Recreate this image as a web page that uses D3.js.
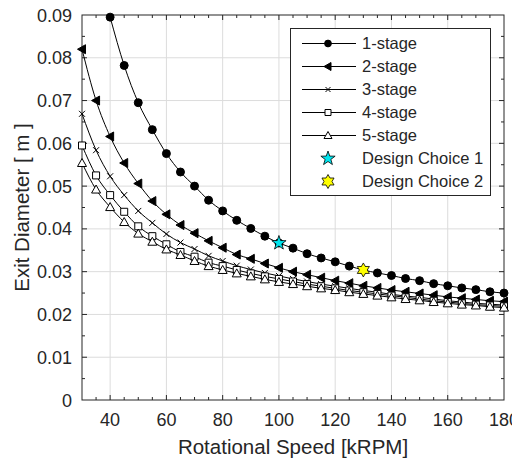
<!DOCTYPE html>
<html>
<head>
<meta charset="utf-8">
<script src="https://cdn.jsdelivr.net/npm/d3@7"></script>
<style>
  body { margin: 0; background: #fff; }
  text { font-family: Arial, "Liberation Sans", sans-serif; fill: #262626; }
</style>
</head>
<body>
<svg id="chart"></svg>
<script>
// rotational speed, kRPM
const speeds = [30, 35, 40, 45, 50, 55, 60, 65, 70, 75, 80, 85, 90, 95, 100, 105,
  110, 115, 120, 125, 130, 135, 140, 145, 150, 155, 160, 165, 170, 175, 180];

// exit diameter [m]; 1-stage starts at 40 kRPM
const stage1 = [0.0895, 0.0782, 0.0695, 0.0632, 0.0576, 0.0533, 0.0500, 0.0467, 0.0442,
  0.0420, 0.0401, 0.0383, 0.0367, 0.0355, 0.0342, 0.0332, 0.0323, 0.0313, 0.0304,
  0.0297, 0.0291, 0.0284, 0.0279, 0.0272, 0.0267, 0.0262, 0.0258, 0.0253, 0.0250];
const stage2 = [0.0820, 0.0700, 0.0616, 0.0554, 0.0506, 0.0465, 0.0434, 0.0409, 0.0390,
  0.0372, 0.0356, 0.0340, 0.0330, 0.0319, 0.0309, 0.0300, 0.0293, 0.0286, 0.0279,
  0.0273, 0.0267, 0.0262, 0.0257, 0.0253, 0.0249, 0.0245, 0.0241, 0.0238, 0.0235,
  0.0232, 0.0230];
const stage3 = [0.0669, 0.0584, 0.0523, 0.0479, 0.0442, 0.0414, 0.0388, 0.0368, 0.0353,
  0.0337, 0.0325, 0.0314, 0.0305, 0.0297, 0.0290, 0.0283, 0.0277, 0.0271, 0.0266,
  0.0261, 0.0256, 0.0252, 0.0247, 0.0243, 0.0240, 0.0236, 0.0232, 0.0229, 0.0226,
  0.0224, 0.0222];
const stage4 = [0.0595, 0.0525, 0.0479, 0.0440, 0.0406, 0.0383, 0.0364, 0.0346, 0.0335,
  0.0321, 0.0313, 0.0304, 0.0296, 0.0289, 0.0283, 0.0277, 0.0271, 0.0266, 0.0261,
  0.0256, 0.0252, 0.0248, 0.0244, 0.0240, 0.0236, 0.0232, 0.0229, 0.0226, 0.0223,
  0.0221, 0.0219];
const stage5 = [0.0554, 0.0492, 0.0451, 0.0416, 0.0389, 0.0370, 0.0352, 0.0339, 0.0325,
  0.0313, 0.0304, 0.0296, 0.0289, 0.0282, 0.0276, 0.0271, 0.0266, 0.0261, 0.0257,
  0.0252, 0.0248, 0.0244, 0.0240, 0.0236, 0.0233, 0.0229, 0.0226, 0.0223, 0.0221,
  0.0218, 0.0216];

const choiceNames = ['Design Choice 1', 'Design Choice 2'];
const choiceSpeed = [100, 130];
const choiceDiam = [0.0367, 0.0304];

const xTicks = [40, 60, 80, 100, 120, 140, 160, 180];
const yTicks = [0, 0.01, 0.02, 0.03, 0.04, 0.05, 0.06, 0.07, 0.08, 0.09];

const width = 512, height = 461;
const margin = { top: 15, right: 8, bottom: 61, left: 82 };

const svg = d3.select('#chart').attr('width', width).attr('height', height);

const x = d3.scaleLinear().domain([30, 180]).range([margin.left, width - margin.right]);
const y = d3.scaleLinear().domain([0, 0.09]).range([height - margin.bottom, margin.top]);

const x0 = x.range()[0], x1 = x.range()[1], y0 = y.range()[0], y1 = y.range()[1];

// grid
svg.append('g').selectAll('line').data(xTicks.filter(d => d < 180)).enter().append('line')
  .attr('x1', d => x(d)).attr('x2', d => x(d)).attr('y1', y0).attr('y2', y1)
  .attr('stroke', '#dcdcdc').attr('stroke-width', 1);
svg.append('g').selectAll('line').data(yTicks.filter(d => d > 0 && d < 0.09)).enter().append('line')
  .attr('y1', d => y(d)).attr('y2', d => y(d)).attr('x1', x0).attr('x2', x1)
  .attr('stroke', '#dcdcdc').attr('stroke-width', 1);

// ticks (inward, all four sides)
const tickG = svg.append('g').attr('stroke', '#262626').attr('stroke-width', 1);
const xMinor = d3.range(35, 180, 5);
const yMinor = d3.range(1, 18).map(i => i * 0.005);
xMinor.forEach(v => {
  const len = xTicks.includes(v) ? 5 : 3;
  tickG.append('line').attr('x1', x(v)).attr('x2', x(v)).attr('y1', y0).attr('y2', y0 - len);
  tickG.append('line').attr('x1', x(v)).attr('x2', x(v)).attr('y1', y1).attr('y2', y1 + len);
});
yMinor.forEach((v, i) => {
  const len = (i % 2 === 1) ? 5 : 3;
  tickG.append('line').attr('y1', y(v)).attr('y2', y(v)).attr('x1', x0).attr('x2', x0 + len);
  tickG.append('line').attr('y1', y(v)).attr('y2', y(v)).attr('x1', x1).attr('x2', x1 - len);
});

// box
svg.append('rect').attr('x', x0).attr('y', y1).attr('width', x1 - x0).attr('height', y0 - y1)
  .attr('fill', 'none').attr('stroke', '#262626').attr('stroke-width', 1);

// tick labels (the last x label runs off the right edge, as in the original)
svg.append('g').selectAll('text').data(xTicks).enter().append('text')
  .attr('x', d => x(d)).attr('y', y0 + 26).attr('text-anchor', 'middle')
  .attr('font-size', 18).text(d => d);
svg.append('g').selectAll('text').data(yTicks).enter().append('text')
  .attr('x', x0 - 10).attr('y', d => y(d) + 6.5).attr('text-anchor', 'end')
  .attr('font-size', 18).text(d => d === 0 ? '0' : d.toFixed(2));

// axis labels
svg.append('text').attr('x', (x0 + x1) / 2).attr('y', y0 + 54).attr('text-anchor', 'middle')
  .attr('font-size', 20.5).text('Rotational Speed [kRPM]');
svg.append('text').attr('transform', `translate(29,${(y0 + y1) / 2}) rotate(-90)`)
  .attr('text-anchor', 'middle').attr('font-size', 20.5).text('Exit Diameter [ m ]');

// marker shapes
function starPath(n, ro, ri) {
  const pts = [];
  for (let i = 0; i < 2 * n; i++) {
    const a = -Math.PI / 2 + i * Math.PI / n;
    const r = i % 2 === 0 ? ro : ri;
    pts.push([r * Math.cos(a), r * Math.sin(a)]);
  }
  return 'M' + pts.map(p => p[0].toFixed(2) + ',' + p[1].toFixed(2)).join('L') + 'Z';
}
const markers = [
  { path: d3.symbol(d3.symbolCircle, 50)(), fill: '#000' },
  { path: 'M-4.5,0L3.5,-4.5L3.5,4.5Z', fill: '#000' },
  { path: 'M-3,-3L3,3M-3,3L3,-3', fill: 'none' },
  { path: 'M-3.5,-3.5H3.5V3.5H-3.5Z', fill: '#fff' },
  { path: 'M0,-4.5L4.5,3.5L-4.5,3.5Z', fill: '#fff' }
];
const legendMarkers = [
  { path: d3.symbol(d3.symbolCircle, 36)(), fill: '#000' },
  { path: 'M-4,0L3,-4L3,4Z', fill: '#000' },
  { path: 'M-2.5,-2.5L2.5,2.5M-2.5,2.5L2.5,-2.5', fill: 'none' },
  { path: 'M-3,-3H3V3H-3Z', fill: '#fff' },
  { path: 'M0,-4L4,3L-4,3Z', fill: '#fff' }
];
const choiceMarkers = [
  { path: starPath(5, 7.5, 3), fill: '#00e5ee' },
  { path: starPath(6, 7, 4), fill: '#ffff00' }
];

const seriesNames = ['1-stage', '2-stage', '3-stage', '4-stage', '5-stage'];
const seriesData = [stage1, stage2, stage3, stage4, stage5];

const line = d3.line().x(d => x(d[0])).y(d => y(d[1])).curve(d3.curveMonotoneX);

const plotG = svg.append('g');
seriesData.forEach((vals, i) => {
  const offset = speeds.length - vals.length;
  const pts = vals.map((v, j) => [speeds[j + offset], v]);
  plotG.append('path').datum(pts).attr('d', line)
    .attr('fill', 'none').attr('stroke', '#000').attr('stroke-width', 1);
  plotG.append('g').selectAll('path').data(pts).enter().append('path')
    .attr('transform', d => `translate(${x(d[0])},${y(d[1])})`)
    .attr('d', markers[i].path).attr('fill', markers[i].fill)
    .attr('stroke', '#000').attr('stroke-width', 1);
});

choiceNames.forEach((n, i) => {
  plotG.append('path')
    .attr('transform', `translate(${x(choiceSpeed[i])},${y(choiceDiam[i])})`)
    .attr('d', choiceMarkers[i].path).attr('fill', choiceMarkers[i].fill)
    .attr('stroke', '#000').attr('stroke-width', 0.8);
});

// legend
const lg = svg.append('g');
lg.append('rect').attr('x', 290.5).attr('y', 28.5).attr('width', 200).attr('height', 167)
  .attr('fill', '#fff').attr('stroke', '#262626').attr('stroke-width', 1);
const rowY = i => 43.5 + i * 23;
seriesNames.forEach((n, i) => {
  lg.append('line').attr('x1', 302).attr('x2', 356).attr('y1', rowY(i)).attr('y2', rowY(i))
    .attr('stroke', '#000').attr('stroke-width', 1);
  lg.append('path').attr('transform', `translate(328,${rowY(i)})`)
    .attr('d', legendMarkers[i].path).attr('fill', legendMarkers[i].fill)
    .attr('stroke', '#000').attr('stroke-width', 1);
  lg.append('text').attr('x', 362).attr('y', rowY(i) + 5.5).attr('font-size', 16.5).text(n);
});
choiceNames.forEach((n, i) => {
  const ry = rowY(5 + i);
  lg.append('path').attr('transform', `translate(328,${ry})`)
    .attr('d', choiceMarkers[i].path).attr('fill', choiceMarkers[i].fill)
    .attr('stroke', '#000').attr('stroke-width', 0.8);
  lg.append('text').attr('x', 362).attr('y', ry + 5.5).attr('font-size', 16.5).text(n);
});
</script>
</body>
</html>
